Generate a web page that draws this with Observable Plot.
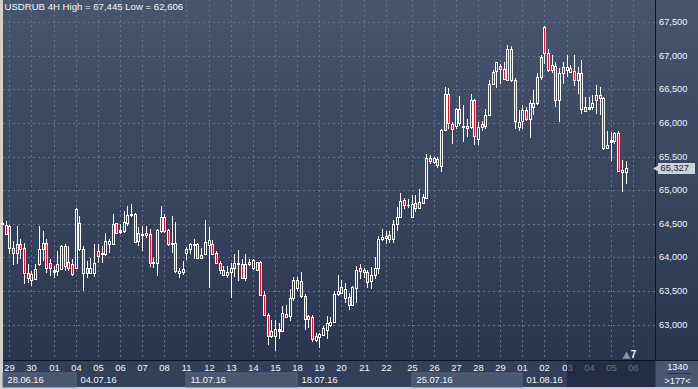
<!DOCTYPE html>
<html><head><meta charset="utf-8">
<script src="https://cdn.jsdelivr.net/npm/d3@7"></script>
<script src="https://cdn.jsdelivr.net/npm/@observablehq/plot@0.6"></script>
<style>
html,body{margin:0;padding:0;background:#d4d0c8;}
#wrap{width:695px;height:387px;border-left:3px solid #d4d0c8;border-bottom:2px solid #d4d0c8;}
#wrap svg{display:block}
</style></head><body>
<svg width="0" height="0" style="position:absolute"><defs>
<linearGradient id="bg" gradientUnits="userSpaceOnUse" x1="0" y1="0" x2="0" y2="360">
<stop offset="0" stop-color="#48556f"/><stop offset="1" stop-color="#2b3550"/></linearGradient></defs></svg>
<div id="wrap"></div>
<script>
const symbol = "USDRUB", timeframe = "4H";
const firstBar = -2;
const opens = [
64500,64480,64470,64145,64070,64195,64145,63765,63660,63675,
63895,64120,64220,63920,63780,63795,63830,64170,63930,63895,
63845,64510,64130,63845,63765,63770,64095,64045,64045,64205,
64195,64505,64385,64395,64505,64630,64645,64245,64355,64370,
64345,63915,63920,64395,64595,64405,64195,64220,63805,63785,
64070,64120,64185,64205,64035,64045,64185,64195,64070,63920,
63820,63735,63780,63845,63905,63895,63690,63895,63845,63820,
63930,63435,63150,62835,62835,62910,62910,63160,63125,63390,
63540,63650,63425,63125,63120,62775,62810,62850,62925,63000,
63040,63450,63475,63525,63415,63290,63550,63845,63820,63785,
63650,63735,63845,64270,64285,64335,64270,64495,64605,64855,
64780,64605,64815,64740,64815,64890,65480,65415,65465,65365,
65895,66435,65985,65950,66210,65935,65960,65935,66345,65765,
65985,65960,66110,66585,66770,66845,66800,66635,67095,66635,
66020,66035,66195,66060,66230,66300,66685,67430,67045,66860,
66845,66335,66735,66785,66820,66770,66635,66735,66180,66210,
66235,66335,66410,66370,65625,65715,65725,65850,65305,65265];
const highs = [
64530,64545,64480,64245,64470,64270,64220,63895,63795,63895,
64470,64395,64270,63970,63870,64095,64180,64195,64170,63970,
64740,64620,64170,63945,63995,64200,64200,64170,64370,64275,
64645,64505,64495,64695,64765,64795,64665,64445,64470,64470,
64420,63995,64420,64765,64645,64420,64620,64520,63845,63945,
64155,64220,64270,64220,64145,64555,64445,64255,64095,63945,
63870,63870,63920,64055,64105,63970,64050,63970,63970,63935,
63945,63500,63175,63075,63075,63025,63275,63290,63525,63705,
63705,63780,63450,63150,63150,62875,62875,62975,63125,63110,
63500,63735,63660,63625,63475,63575,63870,63905,63845,63820,
63855,64005,64320,64420,64395,64395,64555,64750,64965,64890,
64870,64930,64930,65015,64950,65540,65530,65490,65490,65910,
66535,66520,66010,66220,66395,66260,66060,66425,66360,66010,
66035,66210,66635,66785,66905,66870,66905,67165,67145,66660,
66185,66260,66230,66335,66485,66740,67005,67445,67105,67015,
66905,66810,66905,67015,66860,67015,66830,66930,66385,66385,
66410,66560,66535,66385,65885,65870,65870,65885,65455,65440];
const lows = [
64485,64335,64050,63885,63900,63970,63600,63625,63575,63670,
63870,63945,63770,63720,63695,63720,63820,63795,63795,63720,
63825,64095,63500,63695,63750,63705,63915,63920,64020,64070,
64190,64345,64345,64370,64470,64595,64220,64170,64095,64295,
63855,63845,63720,64370,64370,64170,64070,63770,63690,63735,
63955,64055,63970,63970,63970,64035,63540,64045,63905,63750,
63720,63695,63390,63705,63650,63675,63650,63870,63820,63795,
63425,63125,62705,62800,62606,62790,62900,63100,63050,63350,
63500,63400,62925,62950,62750,62750,62650,62825,62790,62960,
63025,63425,63450,63325,63225,63275,63325,63675,63695,63550,
63525,63675,63750,64245,64195,64220,64220,64395,64585,64720,
64740,64585,64670,64735,64800,64865,65390,65390,65330,65265,
65885,65910,65690,65910,65960,65710,65785,65910,65665,65665,
65885,65910,66110,66560,66520,66585,66635,66620,66605,65910,
65885,65915,66035,65770,66110,66260,66635,66870,66760,66735,
66235,66010,66585,66685,66735,66550,66435,66135,66160,66200,
66185,66125,66120,65590,65605,65440,65690,65275,64975,65090];
const closes = [
64515,64345,64145,64070,64195,64120,63765,63695,63750,63830,
64120,64220,63845,63845,63810,63895,64170,63870,63845,63750,
64720,64120,63765,63765,63845,63920,64020,64070,64245,64245,
64495,64370,64405,64520,64635,64645,64235,64370,64330,64330,
63920,63935,64405,64595,64395,64195,64220,63795,63770,63835,
64120,64195,64205,63985,63995,64235,64255,64045,63910,63820,
63735,63780,63845,63920,63910,63690,63895,63930,63955,63930,
63435,63150,62835,62900,62940,62940,63175,63115,63390,63660,
63660,63425,63090,63090,62790,62825,62860,62950,63025,63040,
63450,63500,63560,63400,63290,63560,63820,63805,63785,63640,
63735,63845,64270,64305,64320,64270,64495,64605,64840,64780,
64785,64800,64740,64830,64900,65480,65430,65480,65375,65895,
66435,66000,65910,66210,66000,65960,65925,66345,65810,65935,
65935,66120,66585,66750,66900,66800,66650,67095,66635,66035,
65935,66195,66060,66300,66300,66685,66980,67045,66785,66785,
66335,66735,66830,66830,66760,66635,66735,66200,66230,66235,
66300,66410,66370,65625,65675,65740,65850,65290,65265,65327];

const dayLabels = ["29","30","01","04","05","06","07","08","11","12","13","14","15","18","19","20","21","22","25","26","27","28","29","01","02","03","04","05","06"];
const barsPerDay = 6;
const extraBarBeforeDay = 18;          // a Sunday bar sits before 25.07
const weekLabels = ["28.06.16","04.07.16","11.07.16","18.07.16","25.07.16","01.08.16"];
const weekStartDay = [-1, 3, 8, 13, 18, 23];
const futureFromDay = 25;
const yTicks = [63000,63500,64000,64500,65000,65500,66000,66500,67000,67500];
const totalBars = "1340", visibleBars = ">177<", markerText = "7";

const bars = opens.map((o, j) => ({i: j + firstBar, o, h: highs[j], l: lows[j], c: closes[j]}));
const fmt = d3.format(",");
const hiVal = d3.max(highs), loVal = d3.min(lows);
const title = `${symbol} ${timeframe} High = ${fmt(hiVal)} Low = ${fmt(loVal)}`;
const dayIdx = k => k * barsPerDay + (k >= extraBarBeforeDay ? 1 : 0);
const days = dayLabels.map((t, k) => ({t, i: dayIdx(k), future: k >= futureFromDay}));
const xDomain = [-1.707, 174.98];
const weeks = weekLabels.map((t, w) => ({
  t,
  x1: weekStartDay[w] < 0 ? xDomain[0] : dayIdx(weekStartDay[w]),
  x2: w + 1 < weekLabels.length ? dayIdx(weekStartDay[w + 1]) : dayIdx(futureFromDay),
  light: w % 2 === 0,
  first: weekStartDay[w] < 0
}));
const lastBar = bars[bars.length - 1];
const redC = "#e8112d";
const gridC = "#66728c";
const txtC = "#f2f5fa";
const bodyTop = d => Math.max(d.o, d.c), bodyBot = d => Math.min(d.o, d.c);

const chart = Plot.plot({
  width: 695, height: 387,
  marginLeft: 0, marginRight: 43, marginTop: 0, marginBottom: 27,
  style: {background: "linear-gradient(to bottom, #48556f 0px, #2b3550 360px, #343f5a 360px)", fontFamily: "'Liberation Sans', Arial, sans-serif", fontSize: "9.3px", color: txtC, overflow: "visible"},
  x: {domain: xDomain, round: true, axis: null},
  y: {domain: [62475, 67827], round: true, axis: null},
  marks: [
    Plot.ruleY(yTicks, {stroke: gridC, strokeDasharray: "2,3"}),
    Plot.ruleX(days, {x: "i", stroke: gridC, strokeDasharray: "2,3"}),
    Plot.ruleX(bars, {x: "i", y1: "h", y2: "l", stroke: "#fff", strokeWidth: 1}),
    Plot.ruleX(bars, {x: "i", y1: bodyTop, y2: bodyBot, stroke: "#fff", strokeWidth: 3, insetBottom: -1}),
    Plot.ruleX(bars.filter(d => d.o - d.c > 30), {x: "i", y1: bodyTop, y2: bodyBot, stroke: redC, strokeWidth: 1, insetTop: 1}),
    Plot.ruleX(bars.filter(d => d.c - d.o > 30), {x: "i", y1: bodyTop, y2: bodyBot, stroke: "url(#bg)", strokeWidth: 1, insetTop: 1}),
    Plot.text([title], {frameAnchor: "top-left", dx: 1, dy: 3, lineAnchor: "top", textAnchor: "start", fill: txtC, fontSize: 9.6}),
    Plot.ruleX([xDomain[1]], {stroke: "#0d1422"}),
    Plot.ruleY([62475], {stroke: "#0d1422", insetRight: -43}),
    Plot.text(yTicks, {y: d => d, frameAnchor: "right", dx: 3.5, textAnchor: "start", text: d => fmt(d), fill: txtC}),
    Plot.ruleY([lastBar.c], {insetLeft: 655, insetRight: -40, stroke: "#cdd1da", strokeWidth: 11}),
    Plot.dot([lastBar.c], {y: d => d, frameAnchor: "right", dx: 3, symbol: "triangle", rotate: -90, r: 3.5, fill: "#cdd1da"}),
    Plot.text([lastBar.c], {y: d => d, frameAnchor: "right", dx: 5, textAnchor: "start", text: d => fmt(d), fill: "#1b2130"}),
    Plot.barX(weeks.filter(w => w.light), {x1: "x1", x2: "x2", insetTop: 373, insetBottom: -27, fill: "#4b5671", stroke: "#5b6681"}),
    Plot.text(days, {x: "i", frameAnchor: "bottom", dy: 8, lineAnchor: "middle", text: "t", fill: txtC}),
    Plot.text(weeks, {x: "x1", frameAnchor: "bottom", dy: 20, dx: 4, lineAnchor: "middle", textAnchor: "start", text: "t", fill: txtC}),
    Plot.barX([0], {x1: dayIdx(futureFromDay), x2: xDomain[1], insetTop: 361, insetBottom: -27, fill: "#1c2438", fillOpacity: 0.65}),
    Plot.barX([0], {x1: xDomain[1], x2: xDomain[1], insetLeft: 1, insetRight: -43, insetTop: 361, insetBottom: -27, fill: "#4a5571"}),
    Plot.text([totalBars], {frameAnchor: "bottom-right", dx: 22, dy: 7, lineAnchor: "middle", textAnchor: "middle", fill: txtC}),
    Plot.ruleY([62475], {dy: 13, insetLeft: 664, insetRight: -36, stroke: "#2a3248"}),
    Plot.text([visibleBars], {frameAnchor: "bottom-right", dx: 22, dy: 21, lineAnchor: "middle", textAnchor: "middle", fill: txtC}),
    Plot.dot([lastBar.i], {x: d => d, frameAnchor: "bottom", dy: -4, symbol: "triangle", r: 3, fill: "#8a92a6"}),
    Plot.text([markerText], {x: dayIdx(dayLabels.length - 1), frameAnchor: "bottom", dy: -6, lineAnchor: "middle", text: d => d, fill: txtC, fontWeight: "bold", fontSize: 10})
  ]
});
document.getElementById("wrap").appendChild(chart);
</script>
</body></html>
